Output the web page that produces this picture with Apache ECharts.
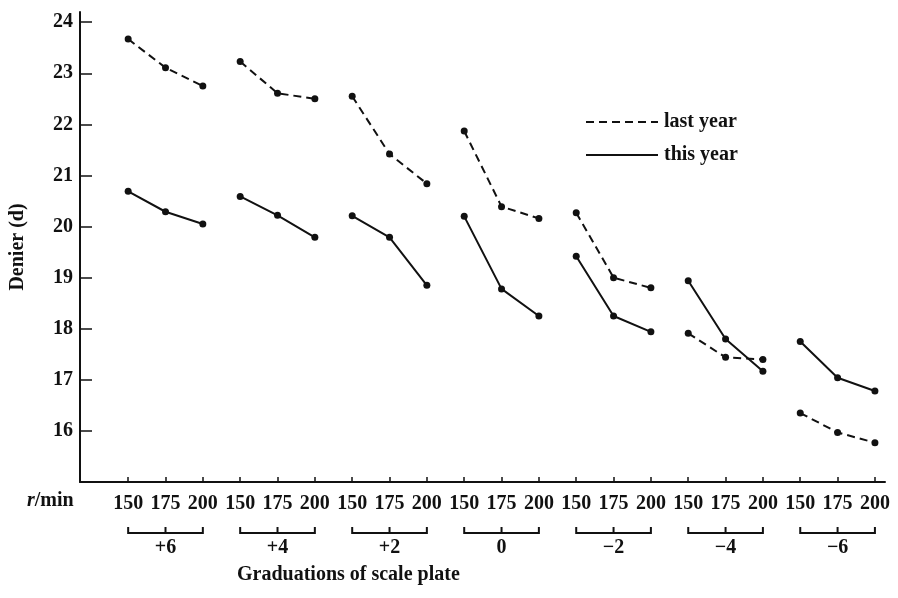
<!DOCTYPE html>
<html>
<head>
<meta charset="utf-8">
<script src="https://cdn.jsdelivr.net/npm/echarts@6/dist/echarts.min.js"></script>
<style>html,body{margin:0;padding:0;background:#fff}#c{width:898px;height:598px}</style>
</head>
<body>
<div id="c"></div>
<script>
// ---- data ----
var speedLabels = ['150', '175', '200'];
var groupLabels = ['+6', '+4', '+2', '0', '\u22122', '\u22124', '\u22126'];
var yTicks = [16, 17, 18, 19, 20, 21, 22, 23, 24];
var lastYear = [23.67, 23.11, 22.75, 23.23, 22.61, 22.50, 22.55, 21.42, 20.84, 21.87, 20.39, 20.16,
                20.27, 19.00, 18.80, 17.91, 17.44, 17.40, 16.35, 15.97, 15.77];
var thisYear = [20.69, 20.29, 20.05, 20.59, 20.22, 19.79, 20.21, 19.79, 18.85, 20.20, 18.78, 18.25,
                19.42, 18.25, 17.94, 18.94, 17.80, 17.17, 17.75, 17.04, 16.78];
var seriesNames = ['last year', 'this year'];
var xName = 'r/min';
var xTitle = 'Graduations of scale plate';
var yName = 'Denier (d)';

// ---- build ----
var nG = groupLabels.length;
var xIdx = [];
for (var i = 0; i < nG * 3; i++) xIdx.push(i);
function segmented(vals) {
  var out = [];
  for (var g = 0; g < nG; g++) {
    for (var k = 0; k < 3; k++) out.push([g * 3 + k, vals[g * 3 + k]]);
    if (g < nG - 1) out.push([g * 3 + 2.5, '-']);
  }
  return out;
}
var FONT = 'Liberation Serif';
var INK = '#111';
var chart = echarts.init(document.getElementById('c'), null, {renderer: 'canvas'});
var option = {
  backgroundColor: '#fff',
  animation: false,
  textStyle: {fontFamily: FONT, color: INK},
  grid: {left: 80, right: 13, top: 12, bottom: 116, containLabel: false, outerBoundsMode: 'none'},
  legend: {
    data: seriesNames,
    orient: 'vertical',
    left: 580, top: 107,
    itemWidth: 72, itemHeight: 14, itemGap: 13,
    itemStyle: {opacity: 0},
    textStyle: {fontFamily: FONT, fontSize: 20, fontWeight: 'bold', color: INK, padding: [0, 0, 0, 1], lineHeight: 20}
  },
  xAxis: {
    type: 'value', min: -1.29, max: 20.27,
    splitLine: {show: false},
    axisLine: {onZero: false, lineStyle: {color: INK, width: 2}},
    axisTick: {show: true, inside: true, length: 5, customValues: xIdx, lineStyle: {color: INK, width: 1.5}},
    axisLabel: {customValues: xIdx, margin: 12, fontSize: 20, fontWeight: 'bold', color: INK, fontFamily: FONT,
      formatter: function (v) { return speedLabels[Math.round(v) % 3]; }}
  },
  yAxis: {
    type: 'value', min: 15, max: 24.2,
    name: yName, nameLocation: 'middle', nameRotate: 90, nameGap: 52,
    nameTextStyle: {fontSize: 20, fontWeight: 'bold', color: INK, fontFamily: FONT},
    splitLine: {show: false},
    axisLine: {onZero: false, lineStyle: {color: INK, width: 2}},
    axisTick: {show: true, inside: true, length: 12, customValues: yTicks, lineStyle: {color: INK, width: 1.5}},
    axisLabel: {customValues: yTicks, margin: 7, fontSize: 20, fontWeight: 'bold', color: INK, fontFamily: FONT}
  },
  graphic: [
    {type: 'text', left: 27, top: 491, style: {text: '{i|r}/min', fontFamily: FONT, fontSize: 20, fontWeight: 'bold', fill: INK,
      rich: {i: {fontStyle: 'italic', fontFamily: FONT, fontSize: 20, fontWeight: 'bold'}}}},
    {type: 'text', left: 237, top: 565, style: {text: xTitle, fontFamily: FONT, fontSize: 20, fontWeight: 'bold', fill: INK}}
  ],
  series: [
    {
      name: seriesNames[0], type: 'line', data: segmented(lastYear),
      symbol: 'circle', symbolSize: 7, showAllSymbol: true, connectNulls: false,
      lineStyle: {color: INK, width: 2, type: [8, 5]},
      itemStyle: {color: INK}
    },
    {
      name: seriesNames[1], type: 'line', data: segmented(thisYear),
      symbol: 'circle', symbolSize: 7, showAllSymbol: true, connectNulls: false,
      lineStyle: {color: INK, width: 2, type: 'solid'},
      itemStyle: {color: INK}
    },
    {
      type: 'custom', silent: true, clip: false,
      data: groupLabels.map(function (l, g) { return [g * 3 + 1, 15]; }),
      renderItem: function (params, api) {
        var g = params.dataIndex;
        var p0 = api.coord([g * 3, 15]);
        var p1 = api.coord([g * 3 + 1, 15]);
        var p2 = api.coord([g * 3 + 2, 15]);
        var yb = p0[1] + 51, yh = p0[1] + 45;
        var ls = {stroke: INK, lineWidth: 2, fill: null};
        return {type: 'group', children: [
          {type: 'polyline', shape: {points: [[p0[0], yh], [p0[0], yb], [p2[0], yb], [p2[0], yh]]}, style: ls},
          {type: 'line', shape: {x1: p1[0], y1: yb, x2: p1[0], y2: yh}, style: ls},
          {type: 'text', x: p1[0], y: p0[1] + 66, style: {text: groupLabels[g], fontFamily: FONT, fontSize: 20, fontWeight: 'bold',
            fill: INK, align: 'center', verticalAlign: 'middle'}}
        ]};
      }
    }
  ]
};
chart.setOption(option);
</script>
</body>
</html>
